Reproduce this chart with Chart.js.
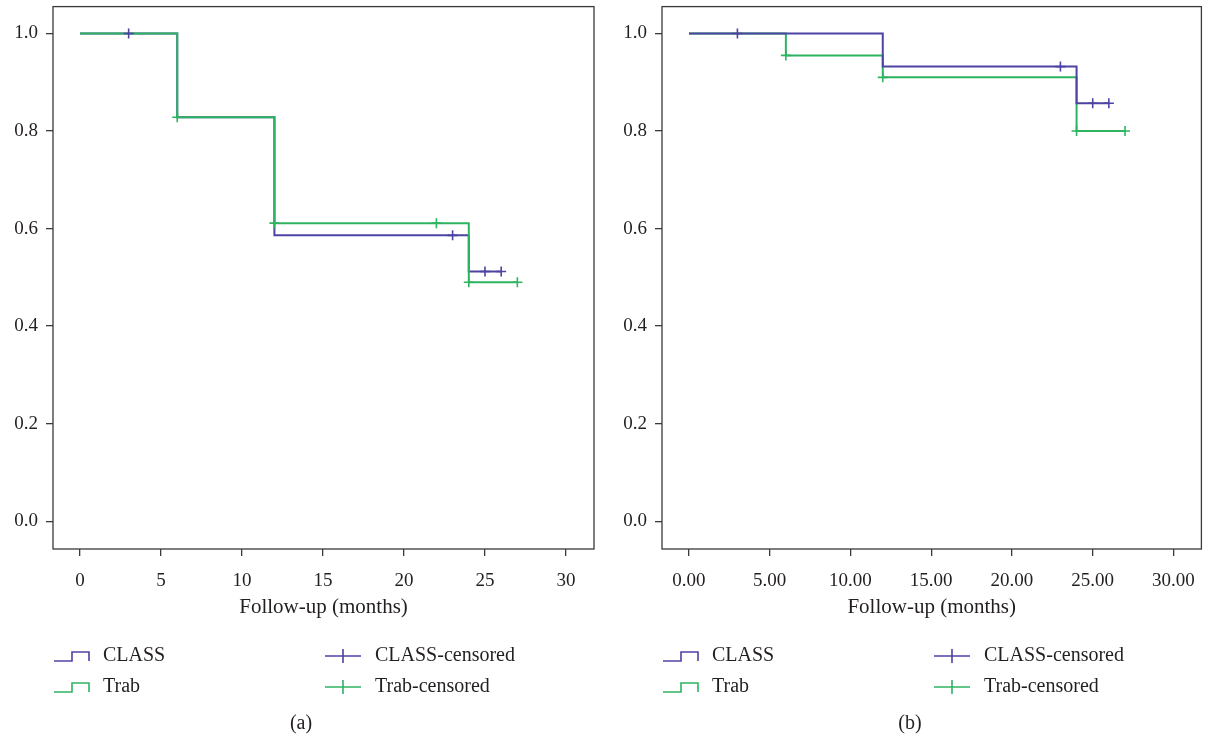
<!DOCTYPE html>
<html lang="en">
<head>
<meta charset="UTF-8">
<title>Follow-up survival</title>
<script src="https://cdn.jsdelivr.net/npm/chart.js@4.4.1/dist/chart.umd.min.js"></script>
<style>
    body{
        margin: 0;
        background: white;
        overflow: hidden;
    }
    .painel{
        position: absolute;
        top: 0;
    }
</style>
</head>
<body>
<div class="painel" style="left:0"><canvas id="graficoA" width="604" height="737"></canvas></div>
<div class="painel" style="left:609px"><canvas id="graficoB" width="599" height="737"></canvas></div>

<script>
// ticks
const xTicks = [0, 5, 10, 15, 20, 25, 30];
const xLabelsA = ['0', '5', '10', '15', '20', '25', '30'];
const xLabelsB = ['0.00', '5.00', '10.00', '15.00', '20.00', '25.00', '30.00'];
const yTicks = [0, 0.2, 0.4, 0.6, 0.8, 1.0];
const yLabels = ['0.0', '0.2', '0.4', '0.6', '0.8', '1.0'];
const legendNames = ['CLASS', 'Trab', 'CLASS-censored', 'Trab-censored'];

// painel (a)
const aClassT = [0, 6, 12, 24, 26];
const aClassS = [1.0, 0.828, 0.586, 0.512, 0.512];
const aTrabT = [0, 6, 12, 24, 27];
const aTrabS = [1.0, 0.828, 0.611, 0.490, 0.490];
const aClassCensT = [3, 23, 25, 26];
const aClassCensS = [1.0, 0.586, 0.512, 0.512];
const aTrabCensT = [6, 12, 22, 24, 27];
const aTrabCensS = [0.828, 0.611, 0.611, 0.490, 0.490];

// painel (b)
const bClassT = [0, 12, 24, 26];
const bClassS = [1.0, 0.932, 0.857, 0.857];
const bTrabT = [0, 6, 12, 24, 27];
const bTrabS = [1.0, 0.955, 0.910, 0.800, 0.800];
const bClassCensT = [3, 23, 25, 26];
const bClassCensS = [1.0, 0.932, 0.857, 0.857];
const bTrabCensT = [6, 12, 24, 27];
const bTrabCensS = [0.955, 0.910, 0.800, 0.800];

const corClass = '#4d43a2';
const corTrab = '#2eb461';
const fonte = "'Liberation Serif', 'DejaVu Serif', serif";
const corTexto = '#231f20';

function pontos(t, s) {
    return t.map((v, i) => ({x: v, y: s[i]}));
}

function escada(t, s, cor, ordem) {
    return {
        type: 'line',
        data: pontos(t, s),
        borderColor: cor,
        borderWidth: 2,
        stepped: true,
        pointRadius: 0,
        fill: false,
        order: ordem
    };
}

function censura(t, s, cor, ordem) {
    return {
        type: 'scatter',
        data: pontos(t, s),
        borderColor: cor,
        backgroundColor: cor,
        pointStyle: 'cross',
        pointRadius: 5,
        pointBorderWidth: 1.6,
        showLine: false,
        order: ordem
    };
}

// caixa, legenda e rotulo do painel
function pluginPainel(rotulo) {
    return {
        id: 'painel',
        beforeDatasetsDraw(chart) {
            const a = chart.chartArea;
            const ctx = chart.ctx;
            ctx.save();
            ctx.strokeStyle = '#3a3a3a';
            ctx.lineWidth = 1.3;
            ctx.strokeRect(a.left, a.top, a.right - a.left, a.bottom - a.top);
            ctx.restore();
        },
        afterDraw(chart) {
            const ctx = chart.ctx;
            const l = chart.chartArea.left;
            ctx.save();
            ctx.font = '20px ' + fonte;
            ctx.fillStyle = corTexto;
            ctx.textBaseline = 'middle';
            const linhas = [656, 687];
            const cores = [corClass, corTrab];
            ctx.lineWidth = 1.6;
            for (let i = 0; i < 2; i++) {
                const y = linhas[i];
                // icone em degrau
                ctx.strokeStyle = cores[i];
                ctx.beginPath();
                ctx.moveTo(l + 1, y + 5);
                ctx.lineTo(l + 19, y + 5);
                ctx.lineTo(l + 19, y - 4);
                ctx.lineTo(l + 36, y - 4);
                ctx.lineTo(l + 36, y + 5);
                ctx.stroke();
                ctx.fillText(legendNames[i], l + 50, y);
                // icone de censura
                ctx.beginPath();
                ctx.moveTo(l + 272, y);
                ctx.lineTo(l + 308, y);
                ctx.moveTo(l + 290, y - 7);
                ctx.lineTo(l + 290, y + 7);
                ctx.stroke();
                ctx.fillText(legendNames[i + 2], l + 322, y);
            }
            ctx.textAlign = 'center';
            ctx.fillText(rotulo, 301, 724);
            ctx.restore();
        }
    };
}

function criarGrafico(id, dados, xLabels, rotulo, dir) {
    return new Chart(document.getElementById(id), {
        data: {datasets: dados},
        options: {
            responsive: false,
            animation: false,
            layout: {padding: {left: 0, top: 6, right: dir, bottom: 116}},
            plugins: {legend: {display: false}, tooltip: {enabled: false}},
            scales: {
                x: {
                    type: 'linear',
                    min: -1.67,
                    max: 31.73,
                    afterBuildTicks: (s) => { s.ticks = xTicks.map(v => ({value: v})); },
                    afterFit: (s) => { s.height = 72; s.paddingLeft = 0; s.paddingRight = 0; },
                    ticks: {
                        callback: (v, i) => xLabels[i],
                        font: {family: fonte, size: 19},
                        color: corTexto,
                        padding: 14,
                        maxRotation: 0
                    },
                    grid: {drawOnChartArea: false, tickLength: 7, color: '#3a3a3a', lineWidth: 1.3},
                    border: {display: false},
                    title: {
                        display: true,
                        text: 'Follow-up (months)',
                        font: {family: fonte, size: 21},
                        color: corTexto,
                        padding: {top: 0, bottom: 1}
                    }
                },
                y: {
                    type: 'linear',
                    min: -0.057,
                    max: 1.055,
                    afterBuildTicks: (s) => { s.ticks = yTicks.map(v => ({value: v})); },
                    afterFit: (s) => { s.width = 53; s.paddingTop = 0; s.paddingBottom = 0; },
                    ticks: {
                        callback: (v, i) => yLabels[i],
                        font: {family: fonte, size: 19},
                        color: corTexto,
                        padding: 8
                    },
                    grid: {drawOnChartArea: false, tickLength: 7, color: '#3a3a3a', lineWidth: 1.3},
                    border: {display: false}
                }
            }
        },
        plugins: [pluginPainel(rotulo)]
    });
}

let graficoA = criarGrafico('graficoA', [
    escada(aClassT, aClassS, corClass, 2),
    escada(aTrabT, aTrabS, corTrab, 1),
    censura(aClassCensT, aClassCensS, corClass, 0),
    censura(aTrabCensT, aTrabCensS, corTrab, 0)
], xLabelsA, '(a)', 10);

let graficoB = criarGrafico('graficoB', [
    escada(bClassT, bClassS, corClass, 1),
    escada(bTrabT, bTrabS, corTrab, 2),
    censura(bClassCensT, bClassCensS, corClass, 0),
    censura(bTrabCensT, bTrabCensS, corTrab, 0)
], xLabelsB, '(b)', 5);
</script>
</body>
</html>
